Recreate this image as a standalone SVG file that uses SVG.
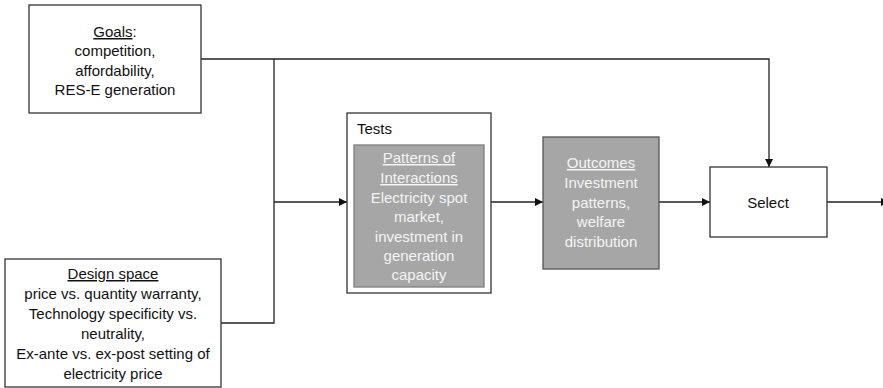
<svg xmlns="http://www.w3.org/2000/svg" width="883" height="388" viewBox="0 0 883 388">
<style>
.box{fill:#fff;stroke:#333;stroke-width:1.3}
.gray{fill:#a6a6a6;stroke:#555;stroke-width:1.3}
.inner{fill:#a6a6a6;stroke:#7f7f7f;stroke-width:1.3}
.t{font-family:"Liberation Sans",Arial,sans-serif;font-size:15px;fill:#111;text-anchor:middle}
.w{font-family:"Liberation Sans",Arial,sans-serif;font-size:15px;fill:#f4f4f4;text-anchor:middle}
.u{text-decoration:underline}
.c{fill:none;stroke:#222;stroke-width:1.3}
</style>
<defs>
<marker id="ah" viewBox="0 0 10 10" refX="10" refY="5" markerWidth="8" markerHeight="8" markerUnits="userSpaceOnUse" orient="auto">
<path d="M0,0 L10,5 L0,10 z" fill="#111"/>
</marker>
</defs>
<g id="connectors">
<polyline class="c" points="201,59 769,59 769,167" marker-end="url(#ah)"/>
<polyline class="c" points="221,323 274,323 274,59"/>
<line class="c" x1="274" y1="202" x2="347" y2="202" marker-end="url(#ah)"/>
<line class="c" x1="491" y1="202" x2="543" y2="202" marker-end="url(#ah)"/>
<line class="c" x1="659" y1="202" x2="710" y2="202" marker-end="url(#ah)"/>
<line class="c" x1="827" y1="202" x2="889" y2="202" marker-end="url(#ah)"/>
</g>
<g id="goals">
<rect class="box" x="29" y="5" width="172" height="108"/>
<text class="t" x="115" y="37"><tspan class="u">Goals</tspan>:</text>
<text class="t" x="115" y="56">competition,</text>
<text class="t" x="115" y="76">affordability,</text>
<text class="t" x="115" y="95">RES-E generation</text>
</g>
<g id="design">
<rect class="box" x="5" y="259" width="216" height="128"/>
<text class="t u" x="113" y="279">Design space</text>
<text class="t" x="113" y="299">price vs. quantity warranty,</text>
<text class="t" x="113" y="319">Technology specificity vs.</text>
<text class="t" x="113" y="339">neutrality,</text>
<text class="t" x="113" y="359">Ex-ante vs. ex-post setting of</text>
<text class="t" x="113" y="379">electricity price</text>
</g>
<g id="tests">
<rect class="box" x="347" y="113" width="144" height="180"/>
<text class="t" x="357" y="134" style="text-anchor:start">Tests</text>
<rect class="inner" x="354" y="145" width="130" height="142"/>
<text class="w u" x="419" y="163">Patterns of</text>
<text class="w u" x="419" y="183">Interactions</text>
<text class="w" x="419" y="203">Electricity spot</text>
<text class="w" x="419" y="222">market,</text>
<text class="w" x="419" y="242">investment in</text>
<text class="w" x="419" y="261">generation</text>
<text class="w" x="419" y="280">capacity</text>
</g>
<g id="outcomes">
<rect class="gray" x="543" y="137" width="116" height="132"/>
<text class="w u" x="601" y="168">Outcomes</text>
<text class="w" x="601" y="188">Investment</text>
<text class="w" x="601" y="208">patterns,</text>
<text class="w" x="601" y="227">welfare</text>
<text class="w" x="601" y="247">distribution</text>
</g>
<g id="select">
<rect class="box" x="710" y="167" width="117" height="70"/>
<text class="t" x="768" y="208">Select</text>
</g>
</svg>
